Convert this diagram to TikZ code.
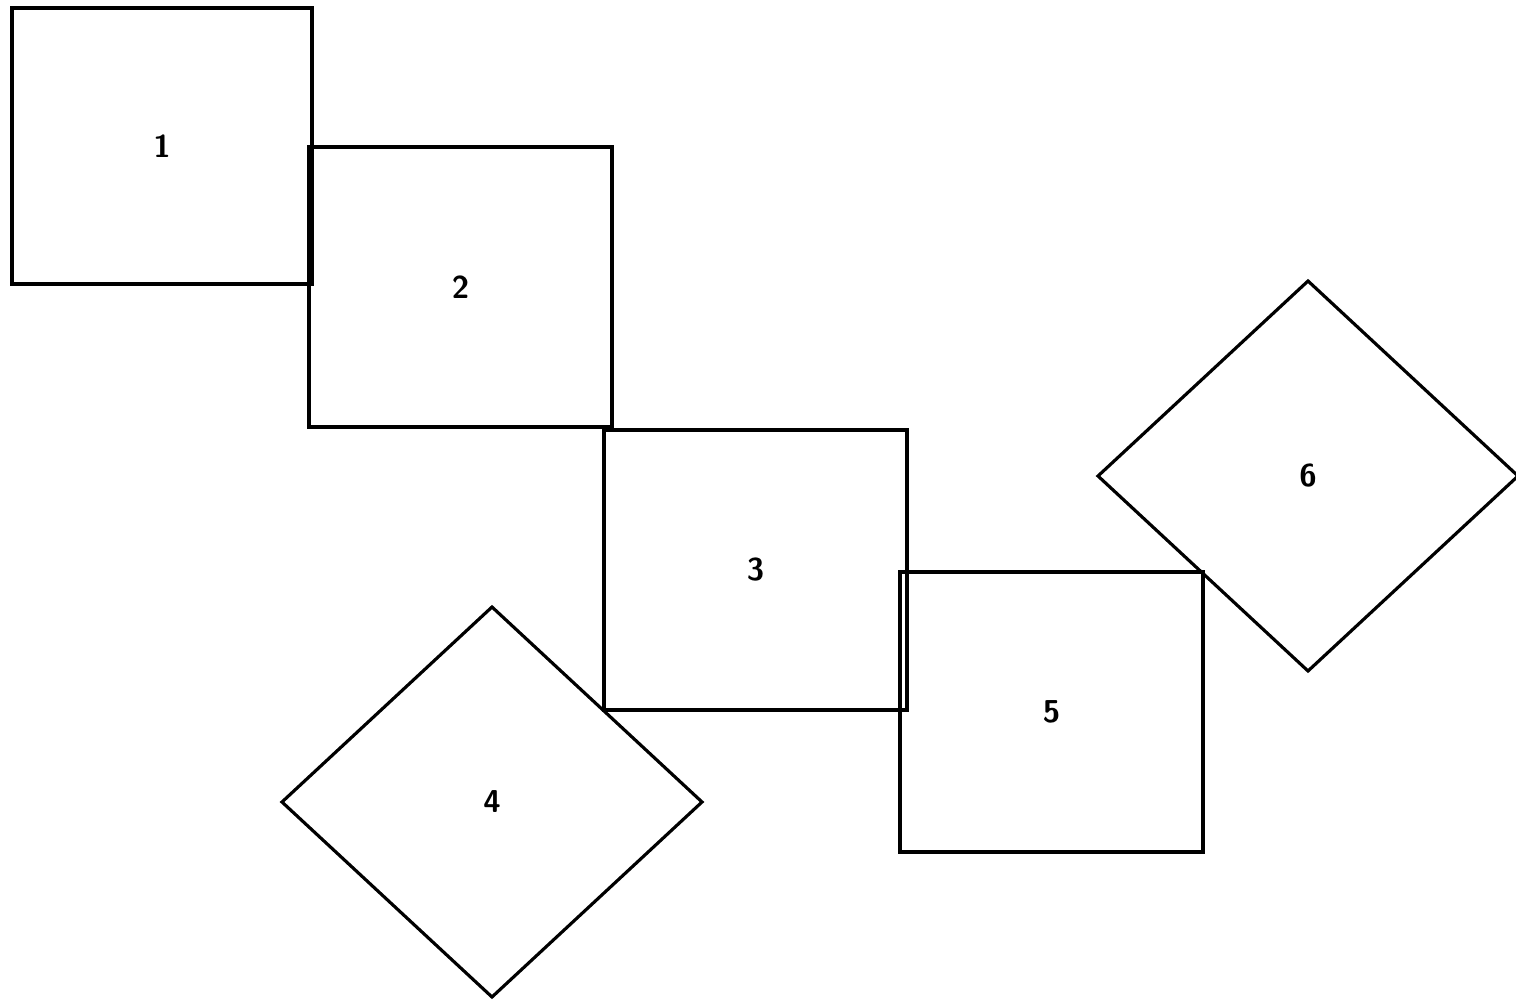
\documentclass[tikz,border=0pt]{standalone}
\usepackage{tikz}
\usetikzlibrary{positioning,shapes.geometric}

\begin{document}
\begin{tikzpicture}[
  tile/.style={rectangle,draw=black,line width=0.9pt,minimum width=3.03cm,minimum height=2.8cm,inner sep=0pt,outer sep=0pt,font=\sffamily\bfseries\small},
  rtile/.style={diamond,draw=black,line width=0.9pt,minimum width=4.2cm,minimum height=3.9cm,inner sep=0pt,outer sep=0pt,font=\sffamily\bfseries\small},
]
\useasboundingbox (0,0) rectangle (15.16,10.01);

% Layer 1: straight tiles, each hung on the previous one
\node[tile,anchor=north west,minimum width=3cm,minimum height=2.76cm] (t1) at (0.12,9.93) {1};
\node[tile,anchor=north west,xshift=-0.03cm,yshift=-0.01cm] (t2) at (t1.east) {2};
\node[tile,anchor=north west,xshift=-0.08cm,yshift=-0.03cm] (t3) at (t2.south east) {3};
\node[tile,anchor=north west,xshift=-0.07cm,yshift=-0.02cm] (t5) at (t3.east) {5};

% Layer 2: turned tiles
\node[rtile] (t4) at (4.92,1.99) {4};
\node[rtile] (t6) at (13.08,5.25) {6};

\end{tikzpicture}
\end{document}
